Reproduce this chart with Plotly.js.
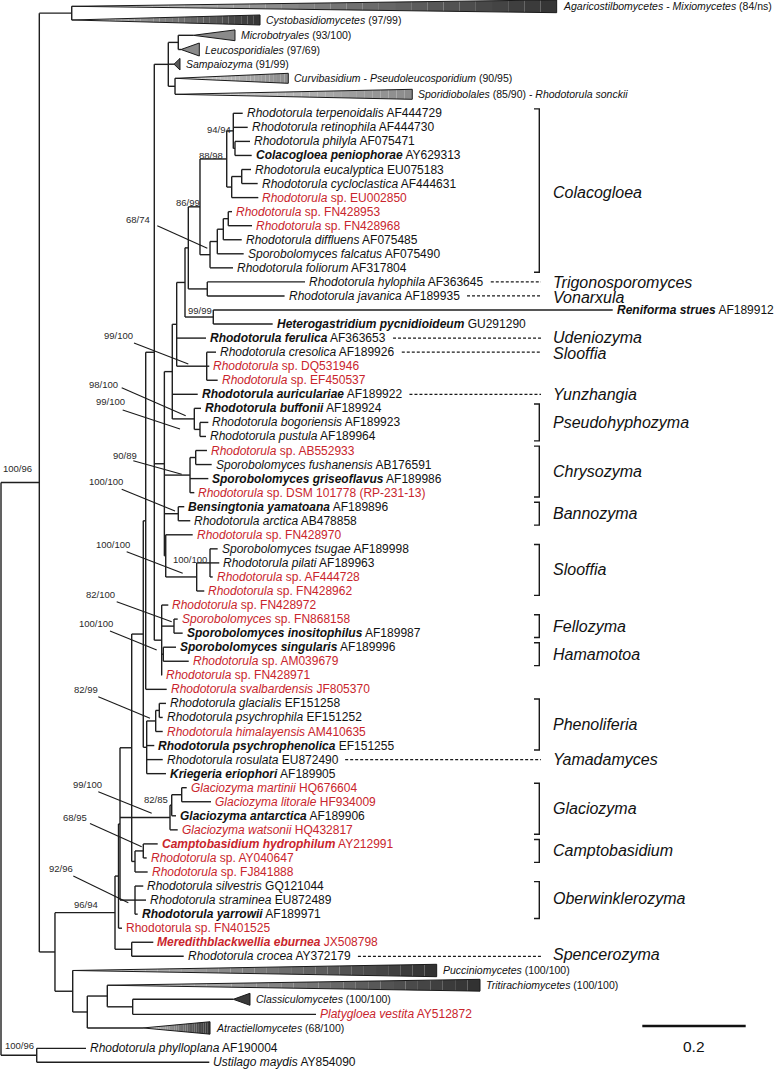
<!DOCTYPE html>
<html><head><meta charset="utf-8">
<script src="https://cdn.plot.ly/plotly-3.0.1.min.js"></script>
<style>html,body{margin:0;padding:0;background:#fff}#chart{width:774px;height:1071px}</style>
</head><body><div id="chart"></div>
<script>
// ---------------- DATA ----------------
// internal nodes: id, parent, depth (substitutions/site from root)
const nodeIds = ['R','A','O','B','N55','N115','L1','L2','N131','N143','P145','BIG','S','ML','CS','Fp','F','E','C','D','N8699','N8898','N9494','PC','N231','EC','N210','FF','FD','FNn','HJ','RH','CR','BU','BP','CH','AF','BA','G','SL2','SL2i','H1','FE','HA','PH','N8299','GP','CG','CA','GL','N8285','ML2','OB','MC','PN','N87','Q','Q133'];
const nodeParents = ['','R','R','A','A','N55','N115','L1','L2','N131','N143','P145','BIG','S','S','BIG','Fp','F','E','C','D','N8699','N8898','N9494','N8898','N231','N8699','N210','FF','FD','D','C','E','F','BU','Fp','CH','Fp','Fp','G','SL2','BIG','H1','H1','N143','PH','N8299','N131','CG','L2','GL','N8285','L2','N115','N55','PN','N87','Q'];
const nodeDepths = [0,0.0741,0.0691,0.1368,0.1044,0.2205,0.2273,0.2302,0.2528,0.2752,0.2799,0.2965,0.3236,0.3429,0.3366,0.3160,0.3313,0.3398,0.3559,0.3623,0.3849,0.4366,0.4493,0.4526,0.4462,0.4656,0.4043,0.4184,0.4300,0.4396,0.3990,0.4106,0.3979,0.3739,0.3849,0.3656,0.3766,0.3429,0.3186,0.3785,0.4043,0.3108,0.3346,0.3139,0.2818,0.2992,0.3062,0.2592,0.2752,0.3269,0.3302,0.3495,0.2592,0.2528,0.1387,0.1669,0.2056,0.2547];

// terminal taxa
const tipTaxon = ['Rhodotorula terpenoidalis','Rhodotorula retinophila','Rhodotorula philyla','Colacogloea peniophorae','Rhodotorula eucalyptica','Rhodotorula cycloclastica','Rhodotorula','Rhodotorula','Rhodotorula','Rhodotorula diffluens','Sporobolomyces falcatus','Rhodotorula foliorum','Rhodotorula hylophila','Rhodotorula javanica','Reniforma strues','Heterogastridium pycnidioideum','Rhodotorula ferulica','Rhodotorula cresolica','Rhodotorula','Rhodotorula','Rhodotorula auriculariae','Rhodotorula buffonii','Rhodotorula bogoriensis','Rhodotorula pustula','Rhodotorula','Sporobolomyces fushanensis','Sporobolomyces griseoflavus','Rhodotorula','Bensingtonia yamatoana','Rhodotorula arctica','Rhodotorula','Sporobolomyces tsugae','Rhodotorula pilati','Rhodotorula','Rhodotorula','Rhodotorula','Sporobolomyces','Sporobolomyces inositophilus','Sporobolomyces singularis','Rhodotorula','Rhodotorula','Rhodotorula svalbardensis','Rhodotorula glacialis','Rhodotorula psychrophila','Rhodotorula himalayensis','Rhodotorula psychrophenolica','Rhodotorula rosulata','Kriegeria eriophori','Glaciozyma martinii','Glaciozyma litorale','Glaciozyma antarctica','Glaciozyma watsonii','Camptobasidium hydrophilum','Rhodotorula','Rhodotorula','Rhodotorula silvestris','Rhodotorula straminea','Rhodotorula yarrowii','','Meredithblackwellia eburnea','Rhodotorula crocea','Platygloea vestita','Rhodotorula phylloplana','Ustilago maydis'];
const tipRest = ['AF444729','AF444730','AF075471','AY629313','EU075183','AF444631','sp. EU002850','sp. FN428953','sp. FN428968','AF075485','AF075490','AF317804','AF363645','AF189935','AF189912','GU291290','AF363653','AF189926','sp. DQ531946','sp. EF450537','AF189922','AF189924','AF189923','AF189964','sp. AB552933','AB176591','AF189986','sp. DSM 101778 (RP-231-13)','AF189896','AB478858','sp. FN428970','AF189998','AF189963','sp. AF444728','sp. FN428962','sp. FN428972','sp. FN868158','AF189987','AF189996','sp. AM039679','sp. FN428971','JF805370','EF151258','EF151252','AM410635','EF151255','EU872490','AF189905','HQ676604','HF934009','AF189906','HQ432817','AY212991','sp. AY040647','sp. FJ841888','GQ121044','EU872489','AF189971','Rhodotorula sp. FN401525','JX508798','AY372179','AY512872','AF190004','AY854090'];
const tipParents = ['N9494','N9494','PC','PC','EC','EC','N231','FNn','FNn','FD','FF','N210','HJ','HJ','RH','RH','E','CR','CR','CR','F','BU','BP','BP','AF','AF','CH','CH','BA','BA','G','SL2i','SL2i','SL2i','SL2','H1','FE','FE','HA','HA','H1','P145','GP','GP','N8299','PH','PH','PH','ML2','ML2','N8285','GL','CA','CA','CG','OB','OB','OB','L1','MC','MC','Q133','O','O'];
const tipDepths = [0.4675,0.4772,0.4816,0.4849,0.4836,0.4965,0.4977,0.4468,0.4855,0.4656,0.4694,0.4487,0.5880,0.5485,1.1832,0.5255,0.3965,0.4159,0.4029,0.4191,0.3805,0.3868,0.4010,0.3965,0.3984,0.4075,0.4010,0.3739,0.3545,0.3661,0.3708,0.4191,0.4222,0.4095,0.3932,0.3236,0.3418,0.3514,0.3385,0.3631,0.3114,0.3205,0.3191,0.3128,0.3128,0.2965,0.3128,0.3191,0.3592,0.4062,0.3385,0.3418,0.3031,0.2818,0.2837,0.2752,0.2805,0.2644,0.2340,0.2946,0.3534,0.6093,0.1644,0.4029];
const tipRows = [8,9,10,11,12,13,14,15,16,17,18,19,20,21,22,23,24,25,26,27,28,29,30,31,32,33,34,35,36,37,38,39,40,41,42,43,44,45,46,47,48,49,50,51,52,53,54,55,56,57,58,59,60,61,62,63,64,65,66,67,68,72.13,74.55,75.54];
const tipBold = [0,0,0,1,0,0,0,0,0,0,0,0,0,0,1,1,1,0,0,0,1,1,0,0,0,0,1,0,1,0,0,0,0,0,0,0,0,1,1,0,0,0,0,0,0,1,0,1,0,0,1,0,1,0,0,0,0,1,0,1,0,0,0,0];
const tipRed  = [0,0,0,0,0,0,1,1,1,0,0,0,0,0,0,0,0,0,1,1,0,0,0,0,1,0,0,1,0,0,1,0,0,1,1,1,1,0,0,1,1,1,0,0,1,0,0,0,1,1,0,1,1,1,1,0,0,0,1,1,0,1,0,0];

// collapsed clades (triangles)
const wedgeLabels = ['<i>Agaricostilbomycetes</i> - <i>Mixiomycetes</i> (84/ns)','<i>Cystobasidiomycetes</i> (97/99)','<i>Microbotryales</i> (93/100)','<i>Leucosporidiales</i> (97/69)','<i>Sampaiozyma</i> (91/99)','<i>Curvibasidium</i> - <i>Pseudoleucosporidium</i> (90/95)','<i>Sporidiobolales</i> (85/90) - <i>Rhodotorula sonckii</i>','<i>Pucciniomycetes</i> (100/100)','<i>Tritirachiomycetes</i> (100/100)','<i>Classiculomycetes</i> (100/100)','<i>Atractiellomycetes</i> (68/100)'];
const wedgeParents = ['B','B','ML','ML','S','CS','CS','PN','Q','Q133','N87'];
const wedgeStart = [0.1368,0.1368,0.3719,0.3482,0.3346,0.3366,0.3366,0.1387,0.2056,0.4493,0.2747];
const wedgeEnd   = [1.0748,0.5010,0.4526,0.3836,0.3462,0.5557,0.7955,0.8427,0.9265,0.4816,0.4043];
const wedgeRows  = [0.384,1.359,2.449,3.459,4.505,5.509,6.648,69.01,70.06,71.06,73.10];

// node support (ML bootstrap / Bayesian)
const supportNodes = ['A','O','N9494','N8898','N8699','RH','SL2i','N8285','N115','N210','CR','BU','BP','CH','BA','SL2','FE','HA','N8299','GL','CA','OB'];
const supportText  = ['100/96','100/96','94/94','88/98','86/99','99/99','100/100','82/85','96/94','68/74','99/100','98/100','99/100','90/89','100/100','100/100','82/100','100/100','82/99','99/100','68/95','92/96'];

// genera (right-hand annotation)
const genusNames = ['Colacogloea','Trigonosporomyces','Vonarxula','Udeniozyma','Slooffia','Yunzhangia','Pseudohyphozyma','Chrysozyma','Bannozyma','Slooffia','Fellozyma','Hamamotoa','Phenoliferia','Yamadamyces','Glaciozyma','Camptobasidium','Oberwinklerozyma','Spencerozyma'];
const genusFirstRow = [8,20,21,24,25,28,29,32,36,39,44,46,50,54,56,60,63,68];
const genusLastRow  = [19,20,21,24,25,28,31,35,37,42,45,47,53,54,59,61,65,68];

const scaleBarLength = 0.2;

// ---------------- LAYOUT CONSTANTS (pixel geometry) ----------------
const X0PX = 1, PXPERSUB = 517, ROW0PX = 113.3, PXPERROW = 14.05, ROW0 = 8;
const xpx = px => (px - X0PX) / PXPERSUB;
const ypx = px => ROW0 + (px - ROW0PX) / PXPERROW;
const dX = px => px / PXPERSUB;
const dY = px => px / PXPERROW;
const FONT = 'Liberation Sans, Arial, Helvetica, sans-serif';
const RED = '#c9252c', INK = '#111111', LINE = '#1e1e1e';

const wedgeStyle = [
  {h:6.4,c:[52,52,52],g:true},{h:5,c:[52,52,52],g:true},{h:5.4,c:[138,138,138],g:false},{h:6.5,c:[138,138,138],g:false},
  {h:5.8,c:[90,90,90],g:false},{h:5,c:[138,138,138],g:true},{h:5,c:[138,138,138],g:true},{h:6.2,c:[48,48,48],g:true},
  {h:5.9,c:[48,48,48],g:true},{h:6,c:[58,58,58],g:false},{h:6.2,c:[52,52,52],g:true}];

// support label placement: [anchor, label x px, label y px, leader (x1,y1,x2,y2) or null]
const supportPos = {
 'A':['left',3.3,468.3,null],'O':['left',5,1045,null],'N9494':['right',231,129.3,null],'N8898':['right',223.3,155,null],
 'N8699':['right',200,202.7,null],'RH':['right',211.7,310,null],'SL2i':['right',206.7,559,null],'N8285':['right',168.3,799.3,null],
 'N115':['right',98.3,904,null],'N210':['right',150,219.3,[157.3,225.7,207.3,248.3]],'CR':['right',133.3,335.7,[134,343,188.3,364]],
 'BU':['right',118.3,384.3,[121.7,387.7,185.7,415.7]],'BP':['right',125,401,[122.7,410,180,429]],'CH':['right',136.7,455.7,[133.3,460.7,181.7,474.3]],
 'BA':['right',123.3,481.7,[121.7,489.3,175,511]],'SL2':['right',130,544,[126.7,551.7,182.7,573.3]],'FE':['right',115,594.3,[116.7,601.7,171.7,621.7]],
 'HA':['right',113.3,623.7,[110,631,156.7,650]],'N8299':['right',98.3,689.3,[98.3,696.7,150,718.3]],'GL':['right',101.7,784,[98.3,791.7,151.7,813.3]],
 'CA':['right',86.7,817.7,[90,823.5,141.7,846.7]],'OB':['right',72.7,868.3,[73.3,876,128.3,902.7]]};
// small vertical nudges (px) of genus labels
const genusNudge = [2,1,2,-1,1,0,0,0,0,0,0,0,0,0,0,0,-2,-2];

// ---------------- TREE GEOMETRY ----------------
const children = {}; nodeIds.forEach(id=>children[id]=[]);
nodeIds.forEach((id,i)=>{ if(nodeParents[i]) children[nodeParents[i]].push({k:'n',i}); });
tipParents.forEach((p,i)=>children[p].push({k:'t',i}));
wedgeParents.forEach((p,i)=>children[p].push({k:'w',i}));
const joinCache = {};
function joinY(c){ if(c.k==='t') return tipRows[c.i]; if(c.k==='w') return wedgeRows[c.i]; return nodeJoin(nodeIds[c.i]); }
function nodeJoin(id){
  if(joinCache[id]!==undefined) return joinCache[id];
  const ys = children[id].map(joinY);
  return joinCache[id] = (Math.min(...ys)+Math.max(...ys))/2;
}
function depthOf(c){ return c.k==='t'?tipDepths[c.i]:(c.k==='w'?wedgeStart[c.i]:nodeDepths[c.i]); }

const bx=[], by=[];
nodeIds.forEach((id,i)=>{
  const ch = children[id]; const ys = ch.map(joinY); const d = nodeDepths[i];
  bx.push(d,d,null); by.push(Math.min(...ys),Math.max(...ys),null);
  ch.forEach((c,j)=>{ const cd = depthOf(c); if(cd>d){ bx.push(d,cd,null); by.push(ys[j],ys[j],null);} });
});

const traces = [];
function rgb(a){return 'rgb('+a.map(v=>Math.round(v)).join(',')+')';}
wedgeLabels.forEach((lab,i)=>{
  const st = wedgeStyle[i], a = wedgeStart[i], e = wedgeEnd[i], r = wedgeRows[i], h = dY(st.h);
  if(st.g){
    const N = 30;
    for(let k=0;k<N;k++){
      const t0=k/N, t1=(k+1)/N, tm=(t0+t1)/2;
      const x0=a+(e-a)*t0, x1=a+(e-a)*t1;
      const col = st.c.map(v=>255+(v-255)*Math.pow(tm,0.65));
      traces.push({type:'scatter',mode:'lines',x:[x0,x1,x1,x0,x0],y:[r-h*t0,r-h*t1,r+h*t1,r+h*t0,r-h*t0],
        fill:'toself',fillcolor:rgb(col),line:{width:0},hoverinfo:'skip'});
    }
  } else {
    traces.push({type:'scatter',mode:'lines',x:[a,e,e,a],y:[r,r-h,r+h,r],fill:'toself',fillcolor:rgb(st.c),line:{width:0},hoverinfo:'skip'});
  }
  traces.push({type:'scatter',mode:'lines',x:[a,e,e,a],y:[r,r-h,r+h,r],line:{color:'#1a1a1a',width:1},hoverinfo:'skip'});
});
traces.push({type:'scatter',mode:'lines',x:bx,y:by,line:{color:LINE,width:1.4},hoverinfo:'skip'});

// leader lines
const lx=[], ly=[];
supportNodes.forEach(n=>{ const p=supportPos[n]; if(p[3]){ lx.push(xpx(p[3][0]),xpx(p[3][2]),null); ly.push(ypx(p[3][1]),ypx(p[3][3]),null);} });
traces.push({type:'scatter',mode:'lines',x:lx,y:ly,line:{color:'#1a1a1a',width:1.1},hoverinfo:'skip'});

// label width measurement for dashed connectors
const cv = document.createElement('canvas').getContext('2d');
function tipWidth(i){
  let w = 0;
  if(tipTaxon[i]){ cv.font=(tipBold[i]?'bold ':'')+'italic 12px "Liberation Sans"'; w += cv.measureText(tipTaxon[i]).width; cv.font='12px "Liberation Sans"'; w += cv.measureText(' ').width; }
  cv.font='12px "Liberation Sans"'; w += cv.measureText(tipRest[i]).width;
  return w;
}
const TIPGAP = dX(4);
const bracketX = xpx(539.3), tickX = xpx(534), genusX = xpx(552.7);
const brx=[], bry=[], dsx=[], dsy=[];
const annotations = [];
genusNames.forEach((g,i)=>{
  const f = genusFirstRow[i], l = genusLastRow[i];
  if(f!==l){
    const t = f - dY(4.4), b = l + dY(4.4);
    brx.push(tickX,bracketX,bracketX,tickX,null); bry.push(t,t,b,b,null);
  } else {
    const ti = tipRows.indexOf(f);
    const endPx = (tipDepths[ti]+TIPGAP)*PXPERSUB + X0PX + tipWidth(ti) + 7;
    dsx.push(xpx(endPx), xpx(541), null); dsy.push(f,f,null);
  }
  annotations.push({x:genusX,y:(f+l)/2+dY(genusNudge[i]),xref:'x',yref:'y',text:'<i>'+g+'</i>',showarrow:false,xanchor:'left',yanchor:'middle',
    font:{family:FONT,size:16,color:INK},borderpad:0,borderwidth:0});
});
traces.push({type:'scatter',mode:'lines',x:brx,y:bry,line:{color:'#1a1a1a',width:1.4},hoverinfo:'skip'});
traces.push({type:'scatter',mode:'lines',x:dsx,y:dsy,line:{color:'#1a1a1a',width:1.2,dash:'3px,2px'},hoverinfo:'skip'});

// scale bar
const sbx0 = xpx(642.3), sby = ypx(1026);
traces.push({type:'scatter',mode:'lines',x:[sbx0,sbx0+scaleBarLength],y:[sby,sby],line:{color:'#111',width:2.6},hoverinfo:'skip'});
annotations.push({x:sbx0+scaleBarLength/2,y:ypx(1046.7),xref:'x',yref:'y',text:String(scaleBarLength),showarrow:false,xanchor:'center',yanchor:'middle',
  font:{family:FONT,size:15.5,color:INK},borderpad:0,borderwidth:0});

// tip labels
tipTaxon.forEach((name,i)=>{
  let s = '';
  if(name){ s = '<i>'+name+'</i>'; if(tipBold[i]) s = '<b>'+s+'</b>'; s += ' '; }
  s += tipRest[i];
  annotations.push({x:tipDepths[i]+TIPGAP,y:tipRows[i],xref:'x',yref:'y',text:s,showarrow:false,xanchor:'left',yanchor:'middle',
    font:{family:FONT,size:12,color:tipRed[i]?RED:INK},borderpad:0,borderwidth:0});
});
// wedge labels
wedgeLabels.forEach((lab,i)=>{
  annotations.push({x:wedgeEnd[i]+dX(6),y:wedgeRows[i],xref:'x',yref:'y',text:lab,showarrow:false,xanchor:'left',yanchor:'middle',
    font:{family:FONT,size:10.5,color:INK},borderpad:0,borderwidth:0});
});
// support values
supportNodes.forEach((n,i)=>{
  const p = supportPos[n];
  annotations.push({x:xpx(p[1]),y:ypx(p[2]),xref:'x',yref:'y',text:supportText[i],showarrow:false,xanchor:p[0],yanchor:'middle',
    font:{family:FONT,size:9.5,color:'#2a2a2a'},borderpad:0,borderwidth:0});
});

const layout = {
  width:774,height:1071,margin:{l:0,r:0,t:0,b:0},autosize:false,showlegend:false,
  paper_bgcolor:'#ffffff',plot_bgcolor:'#ffffff',
  xaxis:{range:[xpx(0),xpx(774)],visible:false,fixedrange:true},
  yaxis:{range:[ypx(1071),ypx(0)],visible:false,fixedrange:true},
  annotations:annotations
};
Plotly.newPlot('chart',traces,layout,{staticPlot:true,displayModeBar:false});
</script>
</body></html>
